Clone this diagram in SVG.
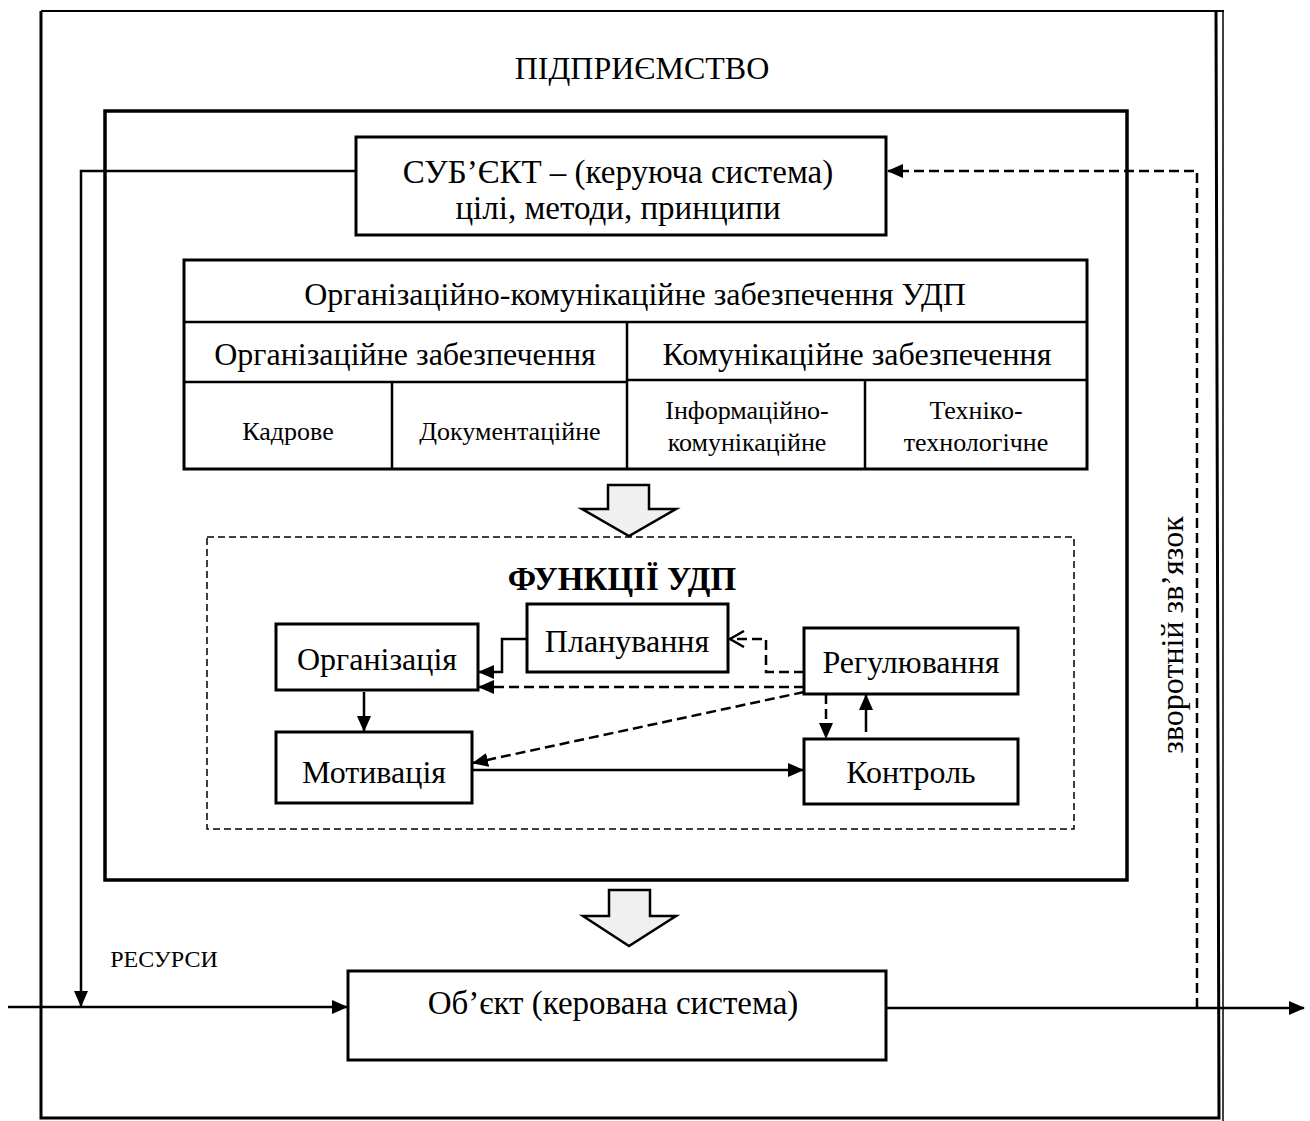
<svg xmlns="http://www.w3.org/2000/svg" width="1310" height="1121" viewBox="0 0 1310 1121">
<defs>
<style>
.t{font-family:"Liberation Serif","Times New Roman",serif;fill:#000;text-anchor:middle}
.box{fill:#fff;stroke:#000;stroke-width:3}
.ln{fill:none;stroke:#000;stroke-width:2.5}
.dl{fill:none;stroke:#000;stroke-width:2.5;stroke-dasharray:10 5}
.fr{fill:none;stroke:#000}
.barrow{fill:#f0f0f0;stroke:#000;stroke-width:2.5;stroke-linejoin:miter}
</style>
<marker id="ah" markerUnits="userSpaceOnUse" markerWidth="16" markerHeight="14" viewBox="0 0 16 14" refX="15" refY="7" orient="auto">
<path d="M0,0 L16,7 L0,14 Z" fill="#000"/>
</marker>
<marker id="oa" markerUnits="userSpaceOnUse" markerWidth="18" markerHeight="18" viewBox="0 0 18 18" refX="16" refY="9" orient="auto">
<path d="M2,1 L16,9 L2,17" fill="none" stroke="#000" stroke-width="2.5"/>
</marker>
</defs>

<g id="frame">
<path class="fr" stroke-width="2" d="M41,11 H1224"/>
<path class="fr" stroke-width="3" d="M41,11 V1118 H1219 L1216,11"/>
<path class="fr" stroke-width="1.5" d="M1223,11 V1121"/>
<text class="t" x="642" y="79" font-size="32">ПІДПРИЄМСТВО</text>
</g>

<g id="inner-frame">
<rect x="105" y="111" width="1022" height="769" fill="none" stroke="#000" stroke-width="3.5"/>
</g>

<g id="subject">
<rect class="box" x="356" y="137" width="530" height="98"/>
<text class="t" x="618" y="183" font-size="33">СУБ’ЄКТ – (керуюча система)</text>
<text class="t" x="618" y="219" font-size="33">цілі, методи, принципи</text>
</g>

<g id="support-table">
<rect class="box" x="184" y="260" width="903" height="209"/>
<path class="ln" stroke-width="3" d="M184,322 H1087 M184,382 H627 M627,380 H1087 M627,322 V469 M392,382 V469 M865,380 V469"/>
<text class="t" x="635" y="305" font-size="32">Організаційно-комунікаційне забезпечення УДП</text>
<text class="t" x="405" y="365" font-size="32">Організаційне забезпечення</text>
<text class="t" x="857" y="365" font-size="32">Комунікаційне забезпечення</text>
<text class="t" x="288" y="440" font-size="26">Кадрове</text>
<text class="t" x="510" y="440" font-size="26">Документаційне</text>
<text class="t" x="747" y="419" font-size="26">Інформаційно-</text>
<text class="t" x="747" y="451" font-size="26">комунікаційне</text>
<text class="t" x="976" y="419" font-size="26">Техніко-</text>
<text class="t" x="976" y="451" font-size="26">технологічне</text>
</g>

<g id="block-arrow-1">
<path class="barrow" d="M608,485 H649 V509 H676 L629,536 L582,509 H608 Z"/>
</g>

<g id="functions">
<rect x="207" y="537" width="867" height="292" fill="none" stroke="#000" stroke-width="1.5" stroke-dasharray="7 4"/>
<text class="t" x="622" y="590" font-size="33" font-weight="bold">ФУНКЦІЇ УДП</text>
</g>

<g id="planning">
<rect class="box" x="527" y="604" width="201" height="68"/>
<text class="t" x="627" y="652" font-size="32">Планування</text>
</g>
<g id="organization">
<rect class="box" x="276" y="624" width="202" height="66"/>
<text class="t" x="377" y="670" font-size="32">Організація</text>
</g>
<g id="regulation">
<rect class="box" x="804" y="628" width="214" height="66"/>
<text class="t" x="911" y="673" font-size="32">Регулювання</text>
</g>
<g id="motivation">
<rect class="box" x="276" y="732" width="196" height="71"/>
<text class="t" x="374" y="783" font-size="32">Мотивація</text>
</g>
<g id="control">
<rect class="box" x="804" y="739" width="214" height="65"/>
<text class="t" x="911" y="783" font-size="32">Контроль</text>
</g>

<g id="block-arrow-2">
<path class="barrow" d="M609,890 H650 V916 H676 L629,946 L583,916 H609 Z"/>
</g>

<g id="object">
<rect class="box" x="348" y="971" width="538" height="89"/>
<text class="t" x="613" y="1014" font-size="33">Об’єкт (керована система)</text>
</g>

<g id="labels">
<text class="t" x="164" y="967" font-size="24">РЕСУРСИ</text>
<text class="t" font-size="32" transform="translate(1183,635) rotate(-90)">зворотній зв’язок</text>
</g>

<g id="connectors">
<path class="ln" d="M355,171 H81 V1006" marker-end="url(#ah)"/>
<path class="ln" d="M8,1007 H347" marker-end="url(#ah)"/>
<path class="ln" d="M886,1008 H1304" marker-end="url(#ah)"/>
<path class="dl" stroke-width="3" d="M1197,1008 V171 H888" marker-end="url(#ah)"/>
<path class="ln" d="M527,639 H502 V672 H479" marker-end="url(#ah)"/>
<path class="dl" stroke-width="2" d="M804,672 H766 V639 H730" marker-end="url(#oa)"/>
<path class="dl" stroke-width="2" d="M804,687 H479" marker-end="url(#ah)"/>
<path class="dl" stroke-width="2" d="M804,692 L473,763" marker-end="url(#ah)"/>
<path class="ln" d="M473,770 H803" marker-end="url(#ah)"/>
<path class="dl" stroke-width="2" d="M826,694 V738" marker-end="url(#ah)"/>
<path class="ln" d="M866,732 V695" marker-end="url(#ah)"/>
<path class="ln" d="M364,692 V731" marker-end="url(#ah)"/>
</g>
</svg>
